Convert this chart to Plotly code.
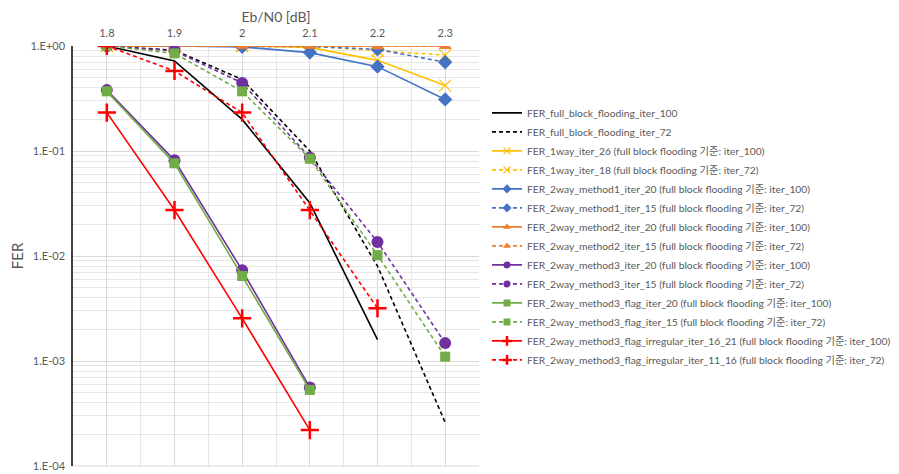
import plotly.graph_objects as go

# Eb/N0 points [dB]
ebn0 = [1.8, 1.9, 2.0, 2.1, 2.2, 2.3]
tick_text = ["1.8", "1.9", "2", "2.1", "2.2", "2.3"]

fer_full_100 = [1.0, 0.72, 0.2, 0.032, 0.0016]
fer_full_72 = [1.0, 0.91, 0.48, 0.1, 0.008, 0.00026]
fer_1way_26 = [1.0, 1.0, 1.0, 0.97, 0.73, 0.42]
fer_1way_18 = [1.0, 1.0, 1.0, 1.0, 0.9, 0.82]
fer_m1_20 = [1.0, 1.0, 0.98, 0.865, 0.636, 0.31]
fer_m1_15 = [1.0, 1.0, 1.0, 0.99, 0.93, 0.70]
fer_m2_20 = [1.0, 1.0, 1.0, 1.0, 1.0, 1.0]
fer_m2_15 = [1.0, 1.0, 1.0, 1.0, 0.99, 1.0]
fer_m3_20 = [0.38, 0.0815, 0.0073, 0.00056]
fer_m3_15 = [1.0, 0.9, 0.445, 0.0865, 0.0136, 0.00148]
fer_m3f_20 = [0.37, 0.0763, 0.00645, 0.00053]
fer_m3f_15 = [1.0, 0.85, 0.37, 0.0845, 0.0102, 0.0011]
fer_irr_16_21 = [0.232, 0.0274, 0.00255, 0.00022]
fer_irr_11_16 = [1.0, 0.578, 0.232, 0.0274, 0.00318]

y_tickvals = [1, 0.1, 0.01, 0.001, 0.0001]
y_ticktext = ["1.E+00", "1.E-01", "1.E-02", "1.E-03", "1.E-04"]

BLACK = "#000000"
YELLOW = "#FFC000"
BLUE = "#4472C4"
ORANGE = "#ED7D31"
PURPLE = "#7030A0"
GREEN = "#70AD47"
RED = "#FF0000"
DASH = "4px,3px"

series = [
    ("FER_full_block_flooding_iter_100", fer_full_100, BLACK, "solid", None, 0),
    ("FER_full_block_flooding_iter_72", fer_full_72, BLACK, DASH, None, 0),
    ("FER_1way_iter_26 (full block flooding 기준: iter_100)", fer_1way_26, YELLOW, "solid", "x-thin-open", 12),
    ("FER_1way_iter_18 (full block flooding 기준: iter_72)", fer_1way_18, YELLOW, DASH, "x-thin-open", 12),
    ("FER_2way_method1_iter_20 (full block flooding 기준: iter_100)", fer_m1_20, BLUE, "solid", "diamond", 11),
    ("FER_2way_method1_iter_15 (full block flooding 기준: iter_72)", fer_m1_15, BLUE, DASH, "diamond", 11),
    ("FER_2way_method2_iter_20 (full block flooding 기준: iter_100)", fer_m2_20, ORANGE, "solid", "triangle-up", 11),
    ("FER_2way_method2_iter_15 (full block flooding 기준: iter_72)", fer_m2_15, ORANGE, DASH, "triangle-up", 11),
    ("FER_2way_method3_iter_20 (full block flooding 기준: iter_100)", fer_m3_20, PURPLE, "solid", "circle", 12),
    ("FER_2way_method3_iter_15 (full block flooding 기준: iter_72)", fer_m3_15, PURPLE, DASH, "circle", 12),
    ("FER_2way_method3_flag_iter_20 (full block flooding 기준: iter_100)", fer_m3f_20, GREEN, "solid", "square", 10),
    ("FER_2way_method3_flag_iter_15 (full block flooding 기준: iter_72)", fer_m3f_15, GREEN, DASH, "square", 10),
    ("FER_2way_method3_flag_irregular_iter_16_21 (full block flooding 기준: iter_100)", fer_irr_16_21, RED, "solid", "cross-thin-open", 13),
    ("FER_2way_method3_flag_irregular_iter_11_16 (full block flooding 기준: iter_72)", fer_irr_11_16, RED, DASH, "cross-thin-open", 13),
]


def make_marker(symbol, size, color):
    if symbol is None:
        return None
    if symbol.startswith("cross"):
        lw = 2.5
    elif symbol.endswith("thin-open"):
        lw = 1.2
    else:
        lw = 0
    return dict(symbol=symbol, size=size, color=color, line=dict(color=color, width=lw))


fig = go.Figure()
for name, vals, color, dash, symbol, size in series:
    mode = "lines" if symbol is None else "lines+markers"
    # actual curve
    fig.add_trace(go.Scatter(
        x=ebn0[:len(vals)], y=vals, name=name, mode=mode, showlegend=False,
        line=dict(color=color, width=1.6, dash=dash),
        marker=make_marker(symbol, size, color),
    ))
    # legend entry with small marker, like Excel
    fig.add_trace(go.Scatter(
        x=[None], y=[None], name=name, mode=mode,
        line=dict(color=color, width=1.6, dash=dash),
        marker=make_marker(symbol, 7, color),
    ))

grid = "#d9d9d9"
minor_y = [m * 10.0 ** e for e in range(-4, 0) for m in range(2, 10)]

fig.update_xaxes(
    side="top", range=[1.75, 2.35], automargin=False,
    tickvals=ebn0, ticktext=tick_text,
    showgrid=True, gridcolor=grid, gridwidth=1,
    minor=dict(tickvals=[1.75, 1.85, 1.95, 2.05, 2.15, 2.25, 2.35], showgrid=True, gridcolor="#e6e6e6"),
    showline=False, zeroline=False, ticks="", ticklabelstandoff=6,
    tickfont=dict(size=11, color="#595959"),
    title=dict(text="Eb/N0 [dB]", font=dict(size=14, color="#595959"), standoff=0),
)
fig.update_yaxes(
    type="log", range=[-4, 0], automargin=False,
    tickvals=y_tickvals, ticktext=y_ticktext,
    showgrid=True, gridcolor=grid, gridwidth=1,
    minor=dict(tickvals=minor_y, showgrid=True, gridcolor="#e6e6e6"),
    showline=True, linecolor="#404040", linewidth=1.5,
    ticks="", zeroline=False, ticklabelstandoff=4,
    tickfont=dict(size=11, color="#595959"),
    title=dict(text="FER", font=dict(size=15, color="#595959"), standoff=8),
)
fig.add_shape(type="line", xref="paper", yref="paper", x0=0, x1=1, y0=0, y1=0,
              line=dict(color=grid, width=1))

# page body has an 8px margin, so the figure is 8px smaller than the window
fig.update_layout(
    width=891, height=466,
    margin=dict(l=65, r=420, t=38, b=8, autoexpand=False),
    plot_bgcolor="white", paper_bgcolor="white",
    font=dict(family="Lato, Noto Sans CJK KR, sans-serif", color="#595959"),
    hovermode=False,
    legend=dict(
        xref="container", yref="container",
        x=0.5376, y=0.806, xanchor="left", yanchor="top",
        font=dict(size=10.3, color="#595959"),
        itemwidth=30, tracegroupgap=0, maxheight=420,
        bgcolor="rgba(0,0,0,0)",
    ),
)

fig.write_html("out.html")
